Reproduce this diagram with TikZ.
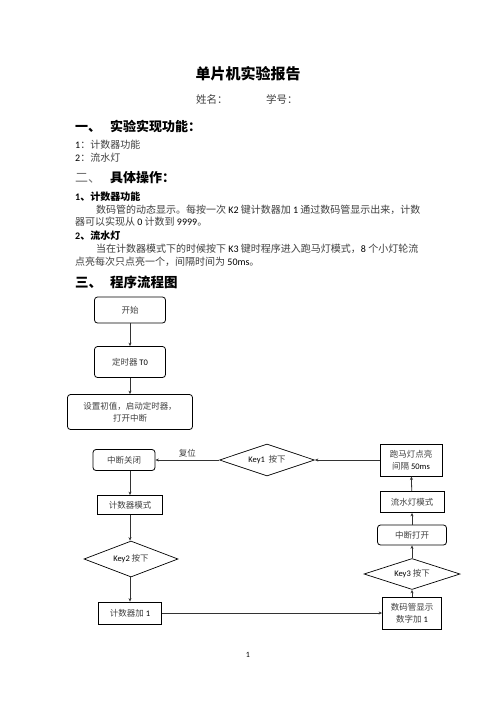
\documentclass[tikz,border=0pt]{standalone}
\usepackage{fontspec}
\setmainfont{Noto Sans CJK SC}
\newfontfamily\en{Carlito}
\usetikzlibrary{positioning,shapes.geometric,arrows.meta}

\newcommand{\lat}[1]{{\en\color{black}#1}}

\tikzset{
  txt/.style={anchor=west, inner sep=0pt, text=black!75, font=\fontsize{10}{12}\selectfont},
  subhead/.style={anchor=west, inner sep=0pt, font=\fontsize{10}{12}\selectfont\bfseries},
  head/.style={anchor=west, inner sep=0pt, font=\fontsize{13}{15}\selectfont\bfseries},
  procbox/.style={draw, line width=0.8pt, inner sep=1pt, align=center,
    text=black!75, font=\fontsize{8.5}{12}\selectfont},
  roundbox/.style={procbox, rounded corners=3pt},
  decision/.style={procbox, diamond, aspect=3, inner sep=0pt, line width=0.7pt},
  flow/.style={draw=black!80, line width=0.8pt, -{Stealth[length=3.5pt,width=3pt]}}
}

\begin{document}
\begin{tikzpicture}[x=1pt,y=-1pt]
  \useasboundingbox[fill=white] (0,0) rectangle (496,702);

  % page text
  \node[font=\fontsize{15}{18}\selectfont\bfseries] (title) at (248,74) {单片机实验报告};
  \node[txt, font=\fontsize{10.5}{12}\selectfont] (name) at (196,99) {姓名：};
  \node[txt, font=\fontsize{10.5}{12}\selectfont] (stuno) at (266,99) {学号：};

  \node[head] (secA) at (75,126) {一、\hspace{9pt}实验实现功能：};
  \node[txt] (itemAa) at (75,145) {\lat{1}：计数器功能};
  \node[txt] (itemAb) at (75,158) {\lat{2}：流水灯};

  \node[head] (secB) at (75,178) {{\mdseries\color{black!55}二、}\hspace{9pt}具体操作：};
  \node[subhead] (subBa) at (75,197) {\lat{1}、计数器功能};
  \node[txt] (bodyBa) at (96,210) {数码管的动态显示。每按一次 \lat{K2} 键计数器加 \lat{1} 通过数码管显示出来，计数};
  \node[txt] (bodyBb) at (75,222) {器可以实现从 \lat{0} 计数到 \lat{9999}。};
  \node[subhead] (subBb) at (75,236) {\lat{2}、流水灯};
  \node[txt] (bodyBc) at (96,249) {当在计数器模式下的时候按下 \lat{K3} 键时程序进入跑马灯模式，\lat{8} 个小灯轮流};
  \node[txt] (bodyBd) at (75,262) {点亮每次只点亮一个，间隔时间为 \lat{50ms}。};

  \node[head, font=\fontsize{13.5}{15}\selectfont\bfseries] (secC) at (75,282) {三、\hspace{8pt}程序流程图};

  % flow chart
  \node[roundbox, minimum width=71pt, minimum height=26pt] (start) at (130,310) {开始};
  \node[roundbox, minimum width=71pt, minimum height=31pt] (timer) at (130,362) {定时器 \lat{T0}};
  \node[roundbox, minimum width=125pt, minimum height=35pt] (init) at (130,412) {设置初值，启动定时器，\\打开中断};

  \node[roundbox, minimum width=62pt, minimum height=21pt] (intoff) at (124,460) {中断关闭};
  \node[decision, minimum width=95pt, minimum height=32pt] (keya) at (267,460) {\lat{Key1}\ \ 按下};
  \node[procbox, minimum width=62pt, minimum height=32pt] (horse) at (411,460) {跑马灯点亮\\间隔 \lat{50ms}};

  \node[procbox, minimum width=65pt, minimum height=19pt] (cntmode) at (130,505) {计数器模式};
  \node[decision, minimum width=94pt, minimum height=36pt] (keyb) at (131,559) {\lat{Key2} 按下};
  \node[procbox, minimum width=63pt, minimum height=22pt] (cntadd) at (130,613) {计数器加 \lat{1}};

  \node[procbox, minimum width=64pt, minimum height=21pt] (flowmode) at (412,502) {流水灯模式};
  \node[roundbox, minimum width=69pt, minimum height=20pt] (inton) at (412,535) {中断打开};
  \node[decision, minimum width=96pt, minimum height=31pt] (keyc) at (412,574) {\lat{Key3} 按下};
  \node[procbox, minimum width=59pt, minimum height=32pt] (display) at (412,613) {数码管显示\\数字加 \lat{1}};

  \draw[flow] (start) -- (timer);
  \draw[flow] (timer) -- (init);
  \draw[flow] (intoff.south -| cntmode.north) -- (cntmode);
  \draw[flow] (cntmode) -- (keyb.north -| cntmode.south);
  \draw[flow] (keyb.south -| cntadd.north) -- (cntadd);
  \draw[flow] (cntadd) -- (display);
  \draw[flow] (display) -- (keyc);
  \draw[flow] (keyc) -- (inton);
  \draw[flow] (inton) -- (flowmode);
  \draw[flow] (flowmode) -- (horse);
  \draw[flow] (horse) -- (keya);
  \draw[flow] (keya) -- node[above, inner sep=2pt, text=black!75, font=\fontsize{8.5}{10}\selectfont] (reset) {复位} (intoff);

  \node[font=\en\fontsize{8}{10}\selectfont] (pagenum) at (248,655) {1};
\end{tikzpicture}
\end{document}
